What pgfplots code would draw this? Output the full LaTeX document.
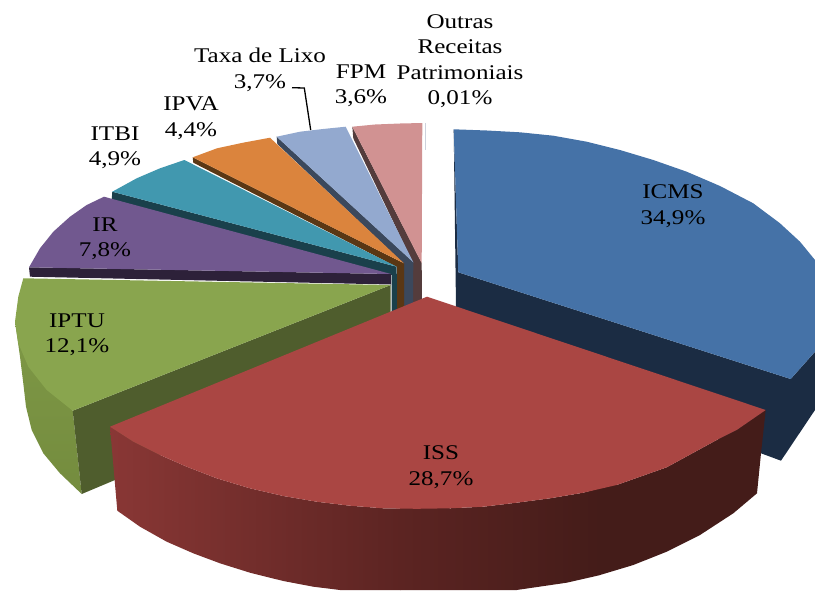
\documentclass[border=0pt]{standalone}
\usepackage{pgfplots}
\pgfplotsset{compat=1.18}
\usepackage{fontspec}
\setmainfont[FakeStretch=1.2]{Liberation Serif}
\definecolor{ic}{RGB}{69,114,167}\definecolor{icd}{RGB}{27,44,67}
\definecolor{re}{RGB}{170,70,67}
\definecolor{gr}{RGB}{137,165,78}\definecolor{grd}{RGB}{79,93,45}\definecolor{gra}{RGB}{126,152,70}\definecolor{grb}{RGB}{116,140,62}
\definecolor{pu}{RGB}{113,88,143}\definecolor{pud}{RGB}{45,33,57}
\definecolor{te}{RGB}{65,152,175}\definecolor{ted}{RGB}{26,64,75}
\definecolor{or}{RGB}{219,132,61}\definecolor{ord}{RGB}{90,55,20}
\definecolor{la}{RGB}{147,169,207}\definecolor{lad}{RGB}{59,72,92}
\definecolor{pi}{RGB}{209,146,146}\definecolor{pid}{RGB}{84,60,60}
\definecolor{ra}{RGB}{137,55,53}\definecolor{rb}{RGB}{92,36,34}\definecolor{rc}{RGB}{68,28,25}
\definecolor{ou}{RGB}{205,210,220}
\tikzset{lab/.style={font=\fontsize{20.9}{25.5}\selectfont,align=center,text=black,inner sep=0pt}}
\begin{document}
\begin{tikzpicture}
\begin{axis}[scale only axis,width=815pt,height=590pt,xmin=0,xmax=815,ymin=0,ymax=590,y dir=reverse,axis lines=none]
\addplot[draw=none] coordinates {(0,0)(815,590)};
% ICMS
\addplot[fill=icd,draw=none] coordinates {(453.7,129.3)(458.3,272.3)(790.7,379)(815,351.7)(815,410)(781,460.7)(761,453.3)(600,400)(456,306.7)} --cycle;
\addplot[fill=ic,draw=none] coordinates {(453.7,129.3)(487,130.5)(520,132.3)(553.3,135.7)(586.7,141.7)(620,150)(653.3,160)(686.7,171.7)(720,186)(753.3,203.3)(780,223.3)(800,241.7)(815,260)(815,351.7)(790.7,379)(458.3,272.3)} --cycle;
% Outras
\addplot[draw=ou,line width=0.8pt] coordinates {(425.5,123)(425.5,150)};
% FPM
\addplot[fill=pid,draw=none] coordinates {(352.3,126.7)(353.3,138.3)(413,263)(413,310)(422,310)(421.7,263)} --cycle;
\addplot[fill=pi,draw=none] coordinates {(352.3,126.7)(375,124.5)(400,123.5)(422.3,123)(421.7,263.3)} --cycle;
% Taxa de Lixo
\addplot[fill=lad,draw=none] coordinates {(276.7,136.7)(277.3,144)(404,264)(404,310)(413,310)(413.3,262)} --cycle;
\addplot[fill=la,draw=none] coordinates {(276.7,136.7)(300,131.7)(323,129)(345.7,126.7)(413.3,262.3)} --cycle;
% IPVA
\addplot[fill=ord,draw=none] coordinates {(192.7,157.3)(193.3,162.7)(397,267)(397,310)(404,310)(404,263.3)} --cycle;
\addplot[fill=or,draw=none] coordinates {(192.7,157.3)(217,148.3)(243,142.7)(270,137.7)(404,263.3)} --cycle;
% ITBI
\addplot[fill=ted,draw=none] coordinates {(112.3,191.7)(111.7,199.3)(391.7,275)(391.7,312)(397,312)(396.7,266.7)} --cycle;
\addplot[fill=te,draw=none] coordinates {(112.3,191.7)(136.7,178.3)(160,168.3)(184.3,160)(396.7,266.7)} --cycle;
% IR
\addplot[fill=pud,draw=none] coordinates {(29,267.3)(30,276.7)(391,284.5)(391,274)} --cycle;
\addplot[fill=pu,draw=none] coordinates {(29,267.3)(40,248.3)(53.3,231.7)(70,216.7)(86.7,205)(104,196.7)(391,274)} --cycle;
% IPTU
\addplot[top color=gra,bottom color=grb,draw=none] coordinates {(15,321.7)(20,356.7)(23.3,383.3)(26,406.7)(31.7,430)(43.3,453.3)(60,473.3)(81.7,494)(72.7,410.7)} --cycle;
\addplot[fill=grd,draw=none] coordinates {(72.7,410.7)(390.7,285)(390.7,330)(115,480)(81.7,494)} --cycle;
\addplot[fill=gr,draw=none] coordinates {(23.3,278.3)(18.3,296.7)(15,321.7)(18.3,343.3)(28.3,366.7)(46.7,390)(72.7,410.7)(390.7,285)} --cycle;
% ISS
\addplot[fill=rc,draw=none] coordinates {(600,480)(616.7,485)(666.7,467.3)(716.7,440)(736.7,430)(765.7,410)(761,453.3)(757,493.3)(733.3,513.3)(700,535)(666.7,551.7)(633.3,565)(600,575)} --cycle;
\addplot[left color=rb,right color=rc,draw=none] coordinates {(400,500)(450,508.3)(483.3,506.7)(516.7,502.7)(550,498.3)(583.3,492.7)(600.5,488)(600.5,575)(566.7,582.7)(516.7,590)(400,590)} --cycle;
\addplot[left color=ra,right color=rb,draw=none] coordinates {(110,426.7)(133.3,441.7)(160,455)(186.7,466.7)(216.7,478.3)(250,488.3)(283.3,496)(316.7,501.7)(350,505.7)(383.3,508.3)(400.5,508.5)(400.5,590)(340,590)(313.3,586.7)(283.3,581)(250,572.7)(220,563.3)(193.3,553.3)(166.7,541.7)(140,526.7)(117.3,510.7)} --cycle;
\addplot[fill=re,draw=none] coordinates {(427,296.7)(765.7,410)(736.7,430)(716.7,440)(666.7,467.3)(616.7,485)(583.3,492.7)(550,498.3)(516.7,502.7)(483.3,506.7)(450,508.3)(416.7,508.8)(383.3,508.3)(350,505.7)(316.7,501.7)(283.3,496)(250,488.3)(216.7,478.3)(186.7,466.7)(160,455)(133.3,441.7)(110,426.7)} --cycle;
% leader
\addplot[black,line width=1.3pt] coordinates {(292,87.7)(304.3,88)(310.7,130)};
% labels
\node[lab] at (axis cs:673,206) {ICMS\\34,9\%};
\node[lab] at (axis cs:441,467) {ISS\\28,7\%};
\node[lab] at (axis cs:77,335) {IPTU\\12,1\%};
\node[lab] at (axis cs:105,239) {IR\\7,8\%};
\node[lab] at (axis cs:115,148) {ITBI\\4,9\%};
\node[lab] at (axis cs:191,118) {IPVA\\4,4\%};
\node[lab] at (axis cs:260,70) {Taxa de Lixo\\3,7\%};
\node[lab] at (axis cs:361,86) {FPM\\3,6\%};
\node[lab] at (axis cs:460,61) {Outras\\Receitas\\Patrimoniais\\0,01\%};
\end{axis}
\end{tikzpicture}
\end{document}
